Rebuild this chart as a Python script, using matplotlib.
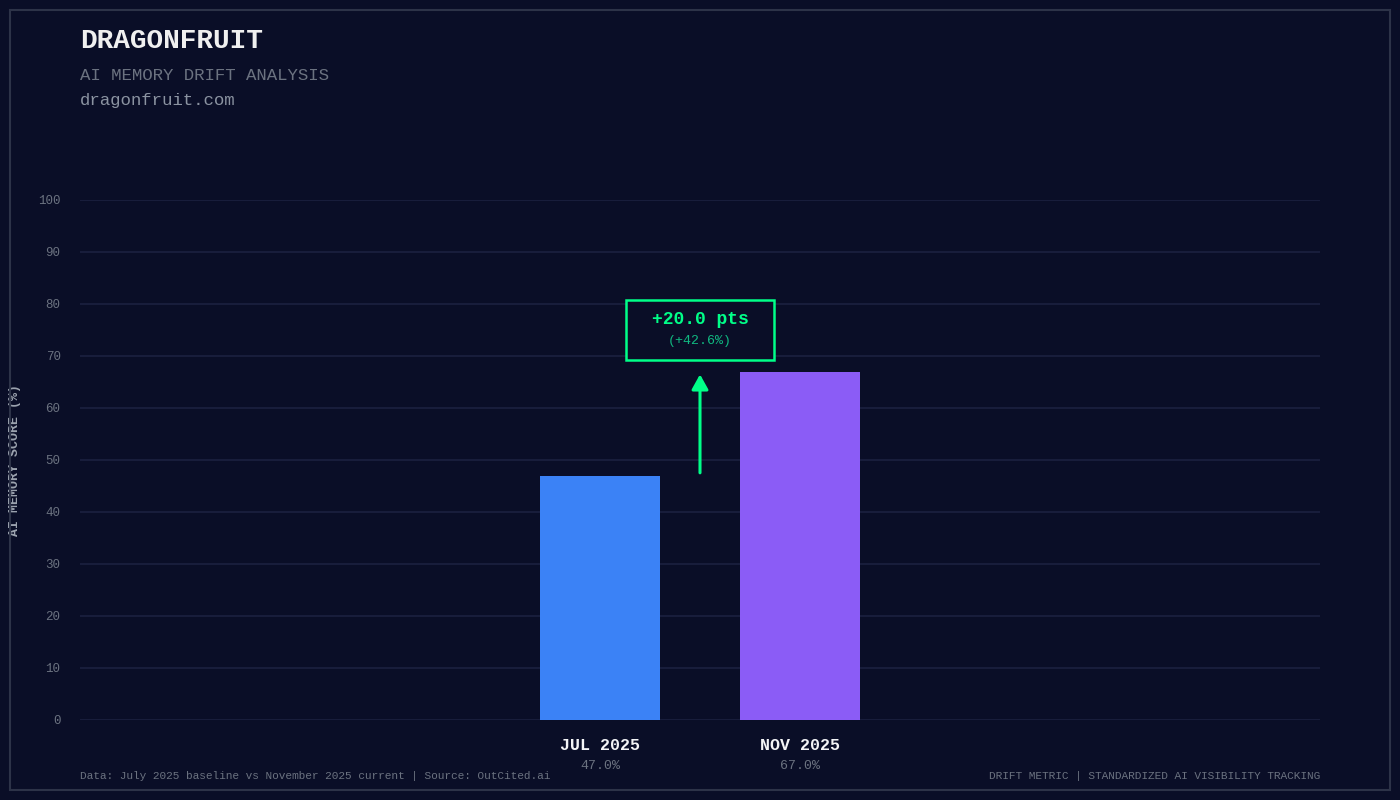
import matplotlib
matplotlib.use("Agg")
import matplotlib.pyplot as plt
from matplotlib.patches import Rectangle, FancyBboxPatch

categories = ["JUL 2025", "NOV 2025"]
values = [47.0, 67.0]
colors = ["#3b82f6", "#8b5cf6"]
yticks = [0, 10, 20, 30, 40, 50, 60, 70, 80, 90, 100]

BG = "#0a0e27"
FONT = "Liberation Mono"
plt.rcParams['font.family'] = [FONT, 'DejaVu Sans']

fig = plt.figure(figsize=(14, 8), dpi=100, facecolor=BG)
ax = fig.add_axes([80/1400, 1-720/800, 1240/1400, 520/800], facecolor=BG)
x = [0, 1]
ax.bar(x, values, width=0.6, color=colors, zorder=3)
ax.set_xlim(-2.6, 3.6)
ax.set_ylim(0, 100)
ax.set_yticks(yticks)
ax.set_yticklabels([str(t) for t in yticks], color="#6b7280", fontsize=9)
ax.tick_params(axis='y', length=0, pad=14)
ax.set_xticks([])
ax.grid(axis='y', color="#1c2140", linewidth=1.2, zorder=0)
for s in ax.spines.values():
    s.set_visible(False)
ax.set_ylabel("AI MEMORY SCORE (%)", color="#9ca3af", fontsize=9.5, fontweight='bold', labelpad=12)

for xi, c, v in zip(x, categories, values):
    ax.text(xi, -5, c, ha='center', va='center', color="#f3f4f6", fontsize=12, fontweight='bold')
    ax.text(xi, -8.8, f"{v:.1f}%", ha='center', va='center', color="#6b7280", fontsize=9.5)

diff = values[1] - values[0]
pct = diff / values[0] * 100
ax.annotate("", xy=(0.5, values[1]), xytext=(0.5, values[0]),
            arrowprops=dict(arrowstyle="-|>,head_width=0.5,head_length=0.9", color="#00ff88", lw=2.2), zorder=5)
ax.add_patch(Rectangle((0.13, 69.2), 0.74, 11.6, facecolor=BG, edgecolor="#00ff88", lw=1.8, zorder=5))
ax.text(0.5, 77, f"+{diff:.1f} pts", ha='center', va='center', color="#00ff88", fontsize=13, fontweight='bold', zorder=6)
ax.text(0.5, 72.8, f"(+{pct:.1f}%)", ha='center', va='center', color="#10b981", fontsize=9.5, zorder=6)

fig.patches.append(Rectangle((10/1400, 10/800), 1380/1400, 780/800, transform=fig.transFigure,
                             fill=False, edgecolor="#2d3348", lw=1.5))
fig.text(80/1400, 1-41/800, "DRAGONFRUIT", color="#f0f0f0", fontsize=20, fontweight='bold', va='center')
fig.text(80/1400, 1-75/800, "AI MEMORY DRIFT ANALYSIS", color="#6b7280", fontsize=12.5, va='center')
fig.text(80/1400, 1-100/800, "dragonfruit.com", color="#8b93a1", fontsize=12.5, va='center')
fig.text(80/1400, 1-776/800, "Data: July 2025 baseline vs November 2025 current | Source: OutCited.ai", color="#6b7280", fontsize=8, va='center')
fig.text(1320/1400, 1-776/800, "DRIFT METRIC | STANDARDIZED AI VISIBILITY TRACKING", color="#6b7280", fontsize=8, va='center', ha='right')

fig.savefig("out.png", facecolor=BG)
